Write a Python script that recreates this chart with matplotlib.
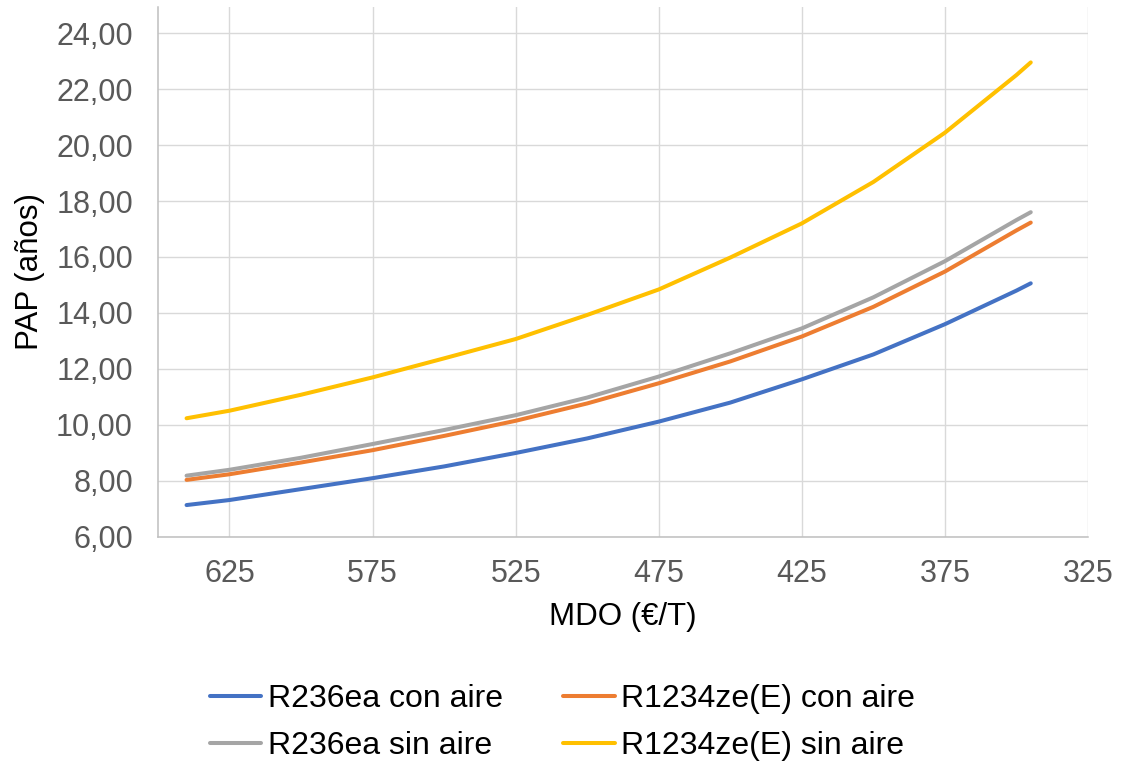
import matplotlib
matplotlib.use('Agg')
import matplotlib.pyplot as plt
from matplotlib.ticker import FuncFormatter, MultipleLocator

plt.rcParams['font.family'] = ['Liberation Sans', 'DejaVu Sans']

# precio del MDO (€/T) y periodo de amortizacion (años)
mdo = [640, 625, 600, 575, 550, 525, 500, 475, 450, 425, 400, 375, 350, 345]

r236_con = [7.14, 7.32, 7.71, 8.10, 8.52, 9.00, 9.52, 10.12, 10.80, 11.63, 12.52, 13.60, 14.80, 15.06]
r1234_con = [8.04, 8.24, 8.66, 9.10, 9.61, 10.15, 10.77, 11.49, 12.27, 13.16, 14.22, 15.48, 16.95, 17.23]
r236_sin = [8.19, 8.40, 8.83, 9.32, 9.82, 10.35, 10.98, 11.73, 12.56, 13.45, 14.56, 15.85, 17.32, 17.60]
r1234_sin = [10.24, 10.51, 11.08, 11.70, 12.38, 13.07, 13.93, 14.84, 15.98, 17.20, 18.68, 20.44, 22.50, 22.95]

labels = ['R236ea con aire', 'R1234ze(E) con aire', 'R236ea sin aire', 'R1234ze(E) sin aire']
colors = ['#4472C4', '#ED7D31', '#A5A5A5', '#FFC000']

fig = plt.figure(figsize=(11.25, 7.67), dpi=100)
ax = fig.add_axes([0.1404, 0.2999, 0.8267, 0.6910])

series = [r236_con, r1234_con, r236_sin, r1234_sin]
lines = []
for vals, lab, col in zip(series, labels, colors):
    ln, = ax.plot(mdo, vals, color=col, lw=2.9, label=lab,
                  solid_capstyle='round', solid_joinstyle='round', zorder=3)
    lines.append(ln)

ax.set_xlim(650, 325)
ax.set_ylim(6, 24.93)
ax.xaxis.set_major_locator(MultipleLocator(50, offset=25))
ax.yaxis.set_major_locator(MultipleLocator(2))
ax.yaxis.set_major_formatter(FuncFormatter(lambda v, p: f'{v:.2f}'.replace('.', ',')))

ax.grid(True, color='#D9D9D9', lw=1.0, zorder=0)
ax.set_axisbelow(True)
for s in ['top', 'right']:
    ax.spines[s].set_visible(False)
for s in ['left', 'bottom']:
    ax.spines[s].set_color('#BFBFBF')
    ax.spines[s].set_linewidth(1.1)

ax.tick_params(axis='both', length=0, labelsize=22, labelcolor='#595959')
ax.tick_params(axis='y', pad=18)
ax.tick_params(axis='x', pad=16)

ax.set_xlabel('MDO (€/T)', fontsize=22.5, color='black', labelpad=9)
ax.set_ylabel('PAP (años)', fontsize=22.5, color='black', labelpad=8)

# orden por columnas para que las filas queden como en el original
order = [0, 2, 1, 3]
fig.legend([lines[i] for i in order], [labels[i] for i in order],
           loc='center', bbox_to_anchor=(0.5, 0.058), ncol=2, frameon=False,
           fontsize=23, handlelength=1.6, handletextpad=0.2, columnspacing=1.9,
           labelspacing=0.55)

fig.savefig('out.png', dpi=100)
